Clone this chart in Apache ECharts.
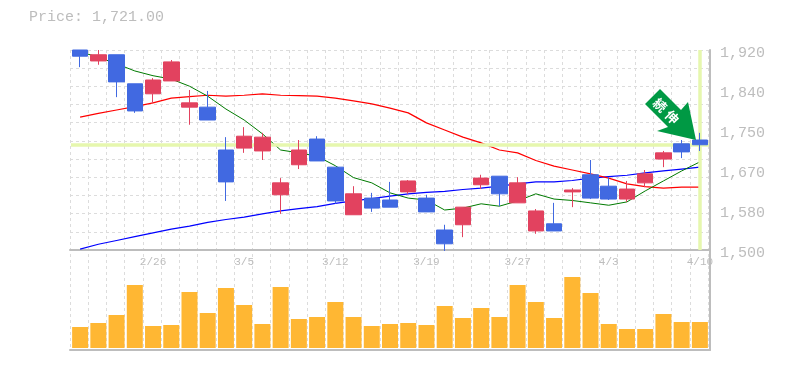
<!DOCTYPE html>
<html>
<head>
<meta charset="utf-8">
<style>
html,body{margin:0;padding:0;background:#fff;}
#main{width:785px;height:370px;}
</style>
<script src="https://cdn.jsdelivr.net/npm/echarts@6/dist/echarts.min.js"></script>
</head>
<body>
<div id="main"></div>
<script>
var dates = ['2/20','2/21','2/22','2/23','2/26','2/27','2/28','3/1','3/2','3/5','3/6','3/7','3/8','3/9','3/12','3/13','3/14','3/15','3/16','3/19','3/20','3/22','3/23','3/26','3/27','3/28','3/29','3/30','4/2','4/3','4/4','4/5','4/6','4/9','4/10'];
var labeledDates = ['2/26','3/5','3/12','3/19','3/27','4/3','4/10'];
var opens  = [1920,1897,1910,1849,1828,1855,1800,1800,1710,1714,1708,1616,1679,1733,1674,1574,1609,1605,1622,1609,1542,1553,1637,1655,1599,1540,1555,1622,1658,1634,1607,1641,1691,1723,1731];
var closes = [1907,1910,1853,1792,1857,1895,1809,1773,1643,1739,1737,1641,1710,1687,1603,1618,1588,1590,1645,1580,1513,1590,1651,1618,1641,1582,1540,1626,1609,1607,1628,1660,1704,1706,1721];
var lows   = [1884,1889,1821,1788,1809,1855,1763,1773,1603,1704,1689,1576,1670,1687,1597,1574,1580,1590,1618,1580,1498,1527,1628,1592,1599,1534,1540,1590,1607,1605,1601,1632,1674,1693,1708];
var highs  = [1920,1920,1910,1849,1861,1899,1836,1834,1737,1758,1746,1651,1731,1739,1674,1634,1620,1643,1647,1616,1553,1590,1658,1655,1653,1586,1599,1630,1689,1653,1645,1668,1708,1731,1746];
var maShort = [1916,1905,1891,1876,1866,1859,1844,1823,1796,1773,1744,1710,1704,1697,1677,1652,1641,1620,1609,1605,1584,1588,1597,1592,1603,1618,1607,1604,1599,1594,1601,1624,1645,1666,1685];
var maMid   = [1779,1787,1794,1801,1809,1819,1822,1825,1823,1825,1828,1825,1824,1823,1819,1813,1807,1798,1788,1767,1752,1737,1725,1710,1704,1688,1676,1668,1660,1651,1639,1633,1630,1632,1632];
var maLong  = [1502,1512,1520,1528,1536,1544,1550,1558,1564,1569,1576,1582,1587,1591,1598,1603,1608,1613,1618,1621,1623,1627,1630,1634,1639,1643,1643,1646,1651,1654,1657,1662,1666,1670,1674];
var volumes = [21,25,33,63,22,23,56,35,60,43,24,61,29,31,46,31,22,24,25,23,42,30,40,31,63,46,30,71,55,24,19,19,34,26,26];
var priceTicks = {1920:'1,920',1836:'1,840',1752:'1,750',1668:'1,670',1584:'1,580',1500:'1,500'};
var lastPrice = 1721;

var gray = '#bdbdbd';
var gridGray = '#dcdcdc';
var monoFont = '"Liberation Mono","DejaVu Sans Mono",monospace';

var candleData = [];
for(var i=0;i<dates.length;i++){
	candleData.push([opens[i],closes[i],lows[i],highs[i]]);
}

var myChart = echarts.init(document.getElementById('main'));
var option = {
	animation:false,
	backgroundColor:'#fff',
	title:{
		text:'Price: 1,721.00',
		left:24,
		top:5,
		textStyle:{color:gray,fontFamily:monoFont,fontSize:15,fontWeight:'normal'}
	},
	grid:[
		//price panel
		{left:71,top:50,width:638,height:200},
		//volume panel
		{left:71,top:250,width:638,height:98},
		//dashed background, full height
		{left:70,top:50,width:640,height:300,z:0},
		{left:70,top:50,width:640,height:200,z:0},
		//price labels sit a little below their level
		{left:71,top:53,width:638,height:200}
	],
	xAxis:[
		{
			type:'category',gridIndex:0,data:dates,
			axisLine:{show:false},axisTick:{show:false},splitLine:{show:false},
			axisLabel:{
				show:true,
				interval:function(idx,val){return labeledDates.indexOf(val)>=0;},
				color:gray,fontFamily:monoFont,fontSize:11,margin:7,
				hideOverlap:false
			}
		},
		{
			type:'category',gridIndex:1,data:dates,
			axisLine:{show:false},axisTick:{show:false},axisLabel:{show:false},splitLine:{show:false}
		},
		{
			type:'value',gridIndex:2,min:0,max:35.1,interval:1,
			axisLine:{show:true,onZero:false,lineStyle:{color:gray,width:2}},
			axisTick:{show:false},axisLabel:{show:false},
			splitLine:{show:true,lineStyle:{color:gridGray,type:[3,3],width:1}}
		},
		{
			type:'value',gridIndex:3,min:0,max:1,
			axisLine:{show:true,onZero:false,lineStyle:{color:gray,width:2}},
			axisTick:{show:false},axisLabel:{show:false},splitLine:{show:false}
		},
		{
			type:'category',gridIndex:4,data:dates,show:false
		}
	],
	yAxis:[
		{
			type:'value',gridIndex:0,min:1500,max:1920,
			axisLine:{show:false},axisTick:{show:false},splitLine:{show:false},axisLabel:{show:false}
		},
		{
			type:'value',gridIndex:1,min:0,max:98,
			axisLine:{show:false},axisTick:{show:false},axisLabel:{show:false},splitLine:{show:false}
		},
		{
			type:'value',gridIndex:2,position:'right',min:0,max:1,
			axisLine:{show:true,onZero:false,lineStyle:{color:gray,width:2}},
			axisTick:{show:false},axisLabel:{show:false},splitLine:{show:false}
		},
		{
			type:'value',gridIndex:3,min:0,max:11,interval:1,
			axisLine:{show:false},axisTick:{show:false},axisLabel:{show:false},
			splitLine:{show:true,lineStyle:{color:gridGray,type:[3,3],width:1}}
		},
		{
			type:'value',gridIndex:4,position:'right',min:1500,max:1920,interval:84,
			axisLine:{show:false},axisTick:{show:false},splitLine:{show:false},
			axisLabel:{
				color:gray,fontFamily:monoFont,fontSize:15,margin:11,
				formatter:function(v){return priceTicks[v];}
			}
		}
	],
	graphic:[
		{
			type:'polygon',z:100,
			shape:{points:[[660,89],[645,104],[668,127],[657,131],[696,140],[688,102],[681,110]]},
			style:{fill:'#009944'}
		},
		{
			type:'text',z:101,x:660,y:105,rotation:-Math.PI/4,
			style:{text:'続',fill:'#fff',fontSize:13,fontWeight:'bold',fontFamily:'"Noto Sans CJK JP"',align:'center',verticalAlign:'middle'}
		},
		{
			type:'text',z:101,x:672,y:117,rotation:-Math.PI/4,
			style:{text:'伸',fill:'#fff',fontSize:13,fontWeight:'bold',fontFamily:'"Noto Sans CJK JP"',align:'center',verticalAlign:'middle'}
		}
	],
	series:[
		{
			name:'crosshair',type:'line',xAxisIndex:0,yAxisIndex:0,data:[],z:3,silent:true,
			markLine:{
				silent:true,symbol:'none',label:{show:false},animation:false,
				lineStyle:{color:'#e6f7ae',width:3.5,type:'solid'},
				data:[{yAxis:lastPrice},{xAxis:dates[dates.length-1]}]
			}
		},
		{name:'maLong',type:'line',xAxisIndex:0,yAxisIndex:0,data:maLong,z:4,symbol:'none',lineStyle:{color:'#0000ff',width:1.2}},
		{name:'maMid',type:'line',xAxisIndex:0,yAxisIndex:0,data:maMid,z:4,symbol:'none',lineStyle:{color:'#ff0000',width:1.2}},
		{name:'maShort',type:'line',xAxisIndex:0,yAxisIndex:0,data:maShort,z:4,symbol:'none',lineStyle:{color:'#007a00',width:1}},
		{
			name:'price',type:'candlestick',xAxisIndex:0,yAxisIndex:0,data:candleData,z:5,
			barWidth:16,
			itemStyle:{color:'#e2425f',color0:'#4169e1',borderColor:'#e2425f',borderColor0:'#4169e1',borderWidth:1}
		},
		{
			name:'volume',type:'bar',xAxisIndex:1,yAxisIndex:1,data:volumes,z:5,
			barWidth:16,
			itemStyle:{color:'#ffb733'}
		}
	]
};
myChart.setOption(option);
</script>
</body>
</html>
